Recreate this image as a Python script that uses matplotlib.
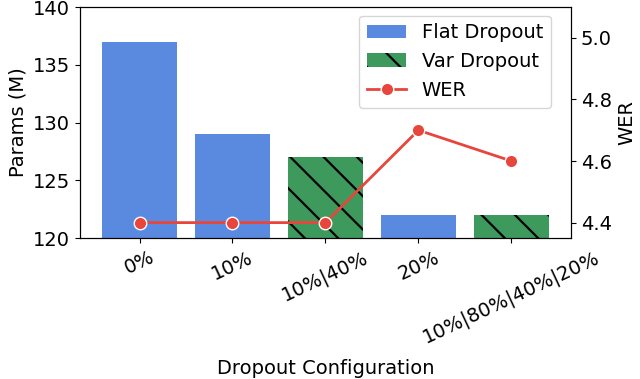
import numpy as np
import matplotlib.pyplot as plt

configs = ['0%', '10%', '10%|40%', '20%', '10%|80%|40%|20%']
params = [137, 129, 127, 122, 122]
is_var = [False, False, True, False, True]
wer = [4.4, 4.4, 4.4, 4.7, 4.6]

COLOR_FLAT = '#5a8ae0'
COLOR_VAR = '#3d9a5c'
COLOR_WER = '#e8453c'

plt.rcParams['font.size'] = 14
plt.rcParams['hatch.linewidth'] = 1.6

fig, ax = plt.subplots(figsize=(6.4, 3.79), dpi=100)
fig.subplots_adjust(left=0.125, right=0.892, top=0.9815, bottom=0.372)

x = np.arange(len(configs))
for i in x:
    if is_var[i]:
        ax.bar(x[i], params[i] - 120, bottom=120, width=0.8, color=COLOR_VAR,
               hatch='\\', edgecolor='black', linewidth=0,
               label='Var Dropout' if i == 2 else None)
    else:
        ax.bar(x[i], params[i] - 120, bottom=120, width=0.8, color=COLOR_FLAT,
               label='Flat Dropout' if i == 0 else None)

ax.set_ylim(120, 140)
ax.set_yticks([120, 125, 130, 135, 140])
ax.set_ylabel('Params (M)')
ax.set_xlabel('Dropout Configuration', labelpad=9)
ax.set_xticks(x)
ax.set_xticklabels(configs, rotation=25, ha='center')

ax2 = ax.twinx()
ax2.plot(x, wer, color=COLOR_WER, linewidth=2, marker='o', markersize=9,
         markeredgecolor='white', markeredgewidth=1, label='WER')
ax2.set_ylim(4.35, 5.1)
ax2.set_yticks([4.4, 4.6, 4.8, 5.0])
ax2.set_ylabel('WER')

h1, l1 = ax.get_legend_handles_labels()
h2, l2 = ax2.get_legend_handles_labels()
ax2.legend(h1 + h2, l1 + l2, loc='upper right', bbox_to_anchor=(0.979, 1.005))

fig.savefig('out.png')
